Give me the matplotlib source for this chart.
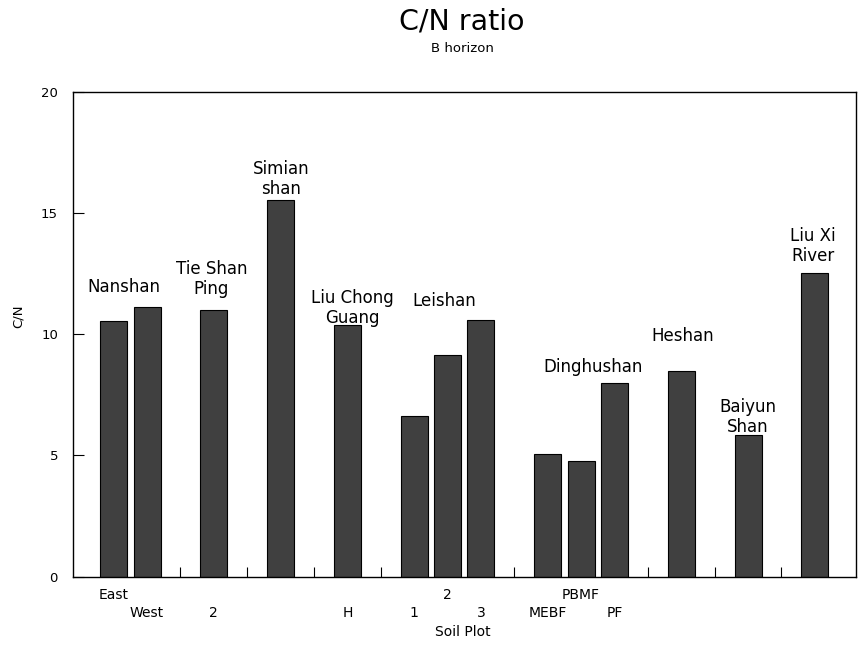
import numpy as np
import matplotlib
matplotlib.use("Agg")
import matplotlib.pyplot as plt
from matplotlib.ticker import FixedLocator, FixedFormatter


# ============================================================
# 1. Data
# ============================================================
groups = ["Nanshan", "Tie Shan\nPing", "Simian\nshan", "Liu Chong\nGuang",
          "Leishan", "Dinghushan", "Heshan", "Baiyun\nShan", "Liu Xi\nRiver"]
plot_labels = [["East", "West"], ["2"], [""], ["H"], ["1", "2", "3"],
               ["MEBF", "PBMF", "PF"], [""], [""], [""]]
cn_values = [[10.56, 11.14], [11.0], [15.54], [10.39], [6.61, 9.15, 10.6],
             [5.08, 4.76, 8.0], [8.48], [5.86], [12.51]]

# group label placement: (x offset from group centre, y in C/N units)
group_label_pos = [(-0.19, 11.96), (-0.07, 12.29), (0.01, 16.39),
                   (0.14, 11.08), (-0.11, 11.35), (0.36, 8.64),
                   (0.04, 9.92), (-0.02, 6.59), (-0.05, 13.65)]


# ============================================================
# 2. Bar positions: bars in a group side by side, one empty slot between groups
# ============================================================
positions = []
values = []
labels = []
centres = []
gaps = []
pos = 0
for g, (labs, vals) in enumerate(zip(plot_labels, cn_values)):
    start = pos
    for lab, val in zip(labs, vals):
        positions.append(pos)
        values.append(val)
        labels.append(lab)
        pos += 1
    centres.append((start + pos - 1) / 2)
    if g < len(groups) - 1:
        gaps.append(pos)
        pos += 1

positions = np.array(positions)


# ============================================================
# 3. Figure
# ============================================================
fig = plt.figure(figsize=(8.59, 6.46), dpi=100)
ax = fig.add_axes([0.0853, 0.1073, 0.9107, 0.7507])

ax.bar(positions, values, width=0.81, color="#404040",
       edgecolor="black", linewidth=0.8, zorder=2)
ax.set_axisbelow(True)

ax.set_xlim(-1.21, 22.22)
ax.set_ylim(0, 20)

# y axis
ax.set_yticks([0, 5, 10, 15, 20])
ax.tick_params(axis="y", direction="in", length=8, width=0.8,
               labelsize=9.5, pad=11)

# x axis: even slots on the upper row, odd slots on the lower row
all_slots = sorted(list(positions) + gaps)
slot_text = {p: l for p, l in zip(positions, labels)}
upper = [s for s in all_slots if s % 2 == 0]
lower = [s for s in all_slots if s % 2 == 1]
ax.xaxis.set_major_locator(FixedLocator(upper))
ax.xaxis.set_major_formatter(FixedFormatter([slot_text.get(s, "") for s in upper]))
ax.xaxis.set_minor_locator(FixedLocator(lower))
ax.xaxis.set_minor_formatter(FixedFormatter([slot_text.get(s, "") for s in lower]))
ax.tick_params(axis="x", which="major", direction="in", length=7,
               width=0.8, labelsize=10, pad=8.5)
ax.tick_params(axis="x", which="minor", direction="in", length=7,
               width=0.8, labelsize=10, pad=21)

for spine in ax.spines.values():
    spine.set_linewidth(1.0)

# group names above the bars
for name, c, (dx, y) in zip(groups, centres, group_label_pos):
    ax.text(c + dx, y, name, ha="center", va="center",
            multialignment="center", fontsize=12, linespacing=1.15)

# ============================================================
# 4. Titles and axis labels
# ============================================================
fig.text(462 / 859, 1 - 22 / 646, "C/N ratio", ha="center", va="center",
         fontsize=20.5)
fig.text(462 / 859, 1 - 49 / 646, "B horizon", ha="center", va="center",
         fontsize=9.5)
fig.text(463 / 859, 1 - 632 / 646, "Soil Plot", ha="center", va="center",
         fontsize=10)
fig.text(18 / 859, 1 - 316 / 646, "C/N", ha="center", va="center",
         rotation=90, fontsize=9.5)

fig.savefig("out.png", dpi=100)
